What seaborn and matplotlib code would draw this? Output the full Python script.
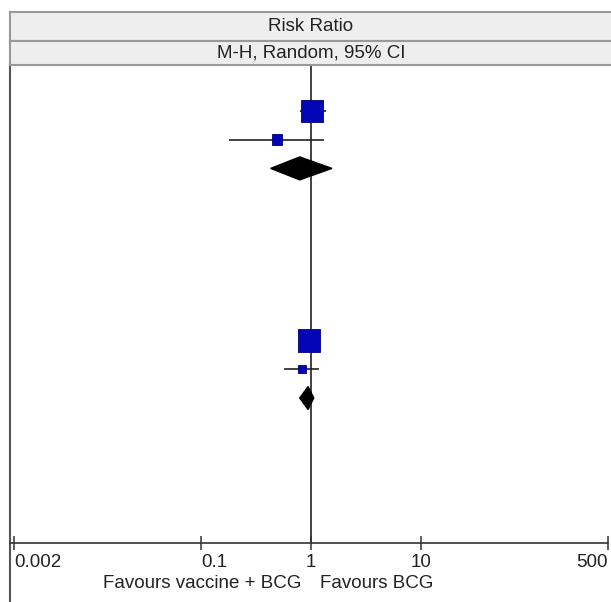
import numpy as np
import pandas as pd
import matplotlib
matplotlib.use("Agg")
import matplotlib.pyplot as plt
import seaborn as sns

# Individual studies (risk ratio, 95% CI, weight %)
study_row = [0, 1, 8, 9]
study_rr = [1.02, 0.49, 0.96, 0.82]
study_lo = [0.79, 0.18, 0.85, 0.57]
study_hi = [1.37, 1.31, 1.08, 1.18]
study_weight = [80.0, 20.0, 89.0, 11.0]

# Subgroup totals
pooled_row = [2, 10]
pooled_rr = [0.79, 0.94]
pooled_lo = [0.43, 0.79]
pooled_hi = [1.55, 1.06]

tick_values = [0.002, 0.1, 1, 10, 500]
tick_labels = ["0.002", "0.1", "1", "10", "500"]
header_top = "Risk Ratio"
header_sub = "M-H, Random, 95% CI"
favours_left = "Favours vaccine + BCG"
favours_right = "Favours BCG"

sns.set_style("white")
plt.rcParams["font.family"] = ["Liberation Sans", "DejaVu Sans"]

W, H = 611, 602
fig = plt.figure(figsize=(W / 100, H / 100), dpi=100)

# pixel helpers for layout
px_per_row = 28.7
row0_px = 111
axis_px = 543
plot_top_px = 65
left_px = 10

ax = fig.add_axes([left_px / W, 0, 1 - left_px / W, (H - plot_top_px) / H])
ax.set_xscale("log")
dec = 594 / (2 * np.log10(500))
ax.set_xlim(10 ** (np.log10(0.002) - 4 / dec), 10 ** (np.log10(500) + 3 / dec))
ylo = (plot_top_px - row0_px) / px_per_row
yhi = (H - row0_px) / px_per_row
axis_row = (axis_px - row0_px) / px_per_row
ax.set_ylim(yhi, ylo)

# line of no effect
ax.vlines(1, ylo, axis_row, color="#333333", lw=1.3, zorder=1)

# confidence intervals
ax.hlines(study_row, study_lo, study_hi, color="#222222", lw=1.2, zorder=2)

# weighted boxes
df = pd.DataFrame({"rr": study_rr, "row": study_row, "w": study_weight})
sns.scatterplot(data=df, x="rr", y="row", size="w", sizes=(0, 300),
                size_norm=(0, 100), marker="s", color="#0505b8",
                edgecolor="#00007a", linewidth=0.6, legend=False, ax=ax, zorder=3)

# pooled diamonds
for r, m, lo, hi in zip(pooled_row, pooled_rr, pooled_lo, pooled_hi):
    ax.fill([lo, m, hi, m], [r, r - 0.4, r, r + 0.4], color="black", zorder=4)

# axis styling
for s in ["top", "right"]:
    ax.spines[s].set_visible(False)
ax.spines["left"].set_color("#555555")
ax.spines["left"].set_linewidth(1.5)
ax.spines["bottom"].set_position(("data", axis_row))
ax.spines["bottom"].set_bounds(ax.get_xlim()[0], 500)
ax.spines["bottom"].set_color("#333333")
ax.spines["bottom"].set_linewidth(1.2)
ax.set_xticks(tick_values)
ax.set_xticklabels(tick_labels)
ax.xaxis.set_minor_locator(matplotlib.ticker.NullLocator())
ax.tick_params(axis="x", direction="inout", length=10, width=1.1,
               color="#333333", labelsize=13.5, labelcolor="#222222", pad=3,
               bottom=True)
ax.set_yticks([])
ax.set_xlabel("")
ax.set_ylabel("")
labels = ax.get_xticklabels()
labels[0].set_ha("left")
labels[1].set_ha("left")
labels[-1].set_ha("right")

ax.annotate(favours_left, xy=(1, axis_row), xytext=(-7, -29), textcoords="offset points",
            ha="right", va="center", fontsize=13.5, color="#222222")
ax.annotate(favours_right, xy=(1, axis_row), xytext=(6.5, -29), textcoords="offset points",
            ha="left", va="center", fontsize=13.5, color="#222222")

# header boxes
def header(y_top, y_bot, text):
    h = fig.add_axes([left_px / W, 1 - y_bot / H, 1 - left_px / W, (y_bot - y_top) / H])
    h.set_facecolor("#eeeeee")
    h.set_xticks([])
    h.set_yticks([])
    h.spines["right"].set_visible(False)
    for s in ["top", "bottom", "left"]:
        h.spines[s].set_color("#999999")
        h.spines[s].set_linewidth(1.5)
    h.text((311 - left_px) / (W - left_px), 0.5, text, ha="center", va="center",
           fontsize=13.5, color="#222222", transform=h.transAxes)

header(12, 41, header_top)
header(41, 65, header_sub)

fig.savefig("out.png", dpi=100, facecolor="white")
